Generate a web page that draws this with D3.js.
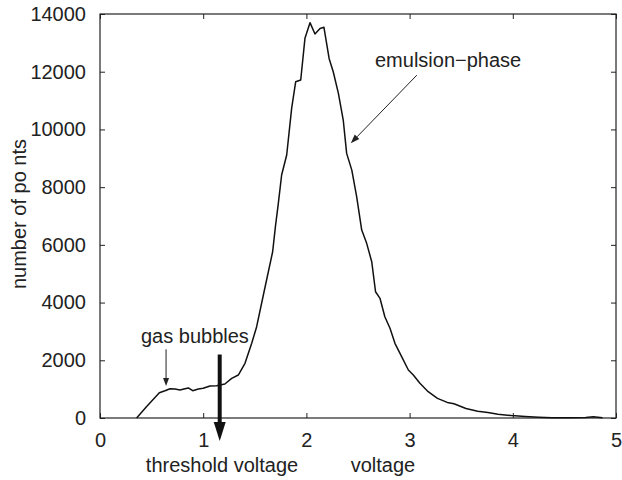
<!DOCTYPE html>
<html>
<head>
<meta charset="utf-8">
<script src="https://cdn.jsdelivr.net/npm/d3@7"></script>
<style>
  html, body { margin: 0; padding: 0; background: #fff; }
  text { font-family: "Liberation Sans", Arial, Helvetica, sans-serif; fill: #222; }
</style>
</head>
<body>
<svg id="chart" width="622" height="480"></svg>
<script>
// ---- data ----
const voltage = [0.355,0.45,0.575,0.63,0.678,0.727,0.775,0.824,0.856,0.898,0.953,1.0,1.066,1.13,1.21,1.276,1.34,1.405,1.47,1.518,1.583,1.673,1.70,1.728,1.76,1.809,1.857,1.896,1.945,1.986,2.035,2.083,2.132,2.17,2.22,2.26,2.31,2.357,2.39,2.44,2.487,2.536,2.584,2.633,2.67,2.713,2.76,2.81,2.858,2.907,2.988,3.036,3.1,3.18,3.27,3.365,3.43,3.546,3.66,3.758,3.856,3.987,4.12,4.25,4.38,4.545,4.707,4.78,4.87];
const counts = [0,390,877,946,1015,1005,970,1015,1040,946,1005,1029,1109,1120,1178,1375,1490,1895,2588,3164,4262,5762,6640,7440,8420,9113,10730,11650,11712,13157,13700,13306,13500,13540,12460,12000,11250,10326,9170,8590,7670,6514,6053,5416,4376,4148,3510,3108,2588,2242,1663,1490,1202,911,680,540,492,330,236,187,128,83,48,24,5,10,20,45,10];
const xTicks = [0,1,2,3,4,5];
const yTicks = [0,2000,4000,6000,8000,10000,12000,14000];
const xLabel = "voltage";
const yLabel = "number of po nts";
const thresholdLabel = "threshold voltage";
const thresholdVoltage = 1.16;
const gasLabel = "gas bubbles";
const gasArrow = {x: 0.64, yFrom: 2380, yTo: 1110};
const emulsionLabel = "emulsion\u2212phase";
const emulsionArrow = {x1: 3.07, y1: 11880, x2: 2.43, y2: 9520};

// ---- layout ----
const svg = d3.select("#chart");
const L = 100, T = 14, R = 616, B = 418;
const x = d3.scaleLinear().domain([0,5]).range([L,R]);
const y = d3.scaleLinear().domain([0,14000]).range([B,T]);
const fs = 20;
const tickLen = 5;

// axes (MATLAB-like box with inward ticks)
const gx = svg.append("g").attr("transform", `translate(0,${B})`)
  .call(d3.axisBottom(x).tickValues(xTicks).tickSize(-tickLen).tickPadding(tickLen + 10).tickFormat(d3.format("d")));
const gxt = svg.append("g").attr("transform", `translate(0,${T})`)
  .call(d3.axisTop(x).tickValues(xTicks).tickSize(-tickLen).tickFormat(""));
const gy = svg.append("g").attr("transform", `translate(${L},0)`)
  .call(d3.axisLeft(y).tickValues(yTicks).tickSize(-tickLen).tickPadding(tickLen + 9).tickFormat(d3.format("d")));
const gyr = svg.append("g").attr("transform", `translate(${R},0)`)
  .call(d3.axisRight(y).tickValues(yTicks).tickSize(-tickLen).tickFormat(""));
[gx,gxt,gy,gyr].forEach(g => {
  g.select(".domain").remove();
  g.selectAll(".tick line").attr("stroke", "#222").attr("stroke-width", 1);
  g.selectAll(".tick text").attr("font-size", fs).attr("fill", "#222")
    .style("font-family", '"Liberation Sans", Arial, sans-serif');
});
svg.append("rect").attr("x", L).attr("y", T).attr("width", R-L).attr("height", B-T)
  .attr("fill", "none").attr("stroke", "#222").attr("stroke-width", 1.2);

// curve
const pts = voltage.map((v,i) => [v, counts[i]]);
svg.append("path").datum(pts)
  .attr("d", d3.line().x(d => x(d[0])).y(d => y(d[1])))
  .attr("fill", "none").attr("stroke", "#111").attr("stroke-width", 1.5).attr("stroke-linejoin", "round");

// labels
svg.append("text").attr("x", 383).attr("y", 472).attr("text-anchor", "middle")
  .attr("font-size", fs).text(xLabel);
svg.append("text").attr("transform", `translate(26,${(T+B)/2 - 2}) rotate(-90)`)
  .attr("text-anchor", "middle").attr("font-size", fs).text(yLabel);
svg.append("text").attr("x", 222).attr("y", 472).attr("text-anchor", "middle")
  .attr("font-size", fs).text(thresholdLabel);

// threshold arrow (thick)
const tx = x(thresholdVoltage);
svg.append("line").attr("x1", tx).attr("x2", tx).attr("y1", y(2200)).attr("y2", B + 6)
  .attr("stroke", "#111").attr("stroke-width", 4);
svg.append("path")
  .attr("d", `M${tx-6},${B+4} L${tx+6},${B+4} L${tx},${B+23} Z`)
  .attr("fill", "#111");

// gas bubbles annotation
svg.append("text").attr("x", 141).attr("y", 343).attr("font-size", fs).text(gasLabel);
const gax = x(gasArrow.x);
svg.append("line").attr("x1", gax).attr("x2", gax).attr("y1", y(gasArrow.yFrom)).attr("y2", y(gasArrow.yTo) - 6)
  .attr("stroke", "#222").attr("stroke-width", 1);
svg.append("path")
  .attr("d", `M${gax-3},${y(gasArrow.yTo)-8} L${gax+3},${y(gasArrow.yTo)-8} L${gax},${y(gasArrow.yTo)} Z`)
  .attr("fill", "#222");

// emulsion annotation
svg.append("text").attr("x", 375).attr("y", 67).attr("font-size", fs).text(emulsionLabel);
const ex1 = x(emulsionArrow.x1), ey1 = y(emulsionArrow.y1), ex2 = x(emulsionArrow.x2), ey2 = y(emulsionArrow.y2);
const ang = Math.atan2(ey2-ey1, ex2-ex1);
const hl = 9, hw = 3.2;
const bx = ex2 - hl*Math.cos(ang), by = ey2 - hl*Math.sin(ang);
svg.append("line").attr("x1", ex1).attr("y1", ey1).attr("x2", bx).attr("y2", by)
  .attr("stroke", "#222").attr("stroke-width", 1);
svg.append("path")
  .attr("d", `M${ex2},${ey2} L${bx + hw*Math.sin(ang)},${by - hw*Math.cos(ang)} L${bx - hw*Math.sin(ang)},${by + hw*Math.cos(ang)} Z`)
  .attr("fill", "#222");
</script>
</body>
</html>
